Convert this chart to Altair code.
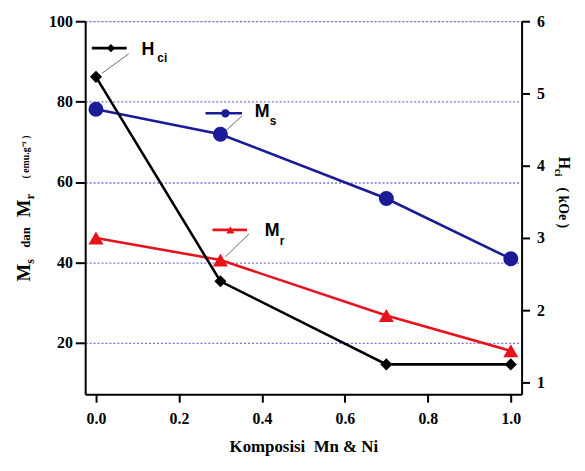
import altair as alt
import pandas as pd

# ---- data ----
composition = [0.0, 0.3, 0.7, 1.0]
ms_values = [78.1, 71.9, 55.9, 40.9]     # emu/g (left axis)
mr_values = [46.1, 40.6, 26.8, 18.0]     # emu/g (left axis)
hci_values = [5.23, 2.40, 1.25, 1.25]    # kOe (right axis)

x_ticks = [0.0, 0.2, 0.4, 0.6, 0.8, 1.0]
left_ticks = [20, 40, 60, 80, 100]
right_ticks = [1, 2, 3, 4, 5, 6]

# in-plot legend keys (data coordinates on the left axis)
key_names = ["Hci", "Ms", "Mr"]
key_x0 = [-0.01, 0.264, 0.281]
key_x1 = [0.074, 0.352, 0.364]
key_y = [93.3, 77.1, 48.1]
key_mark_x = [0.036, 0.312, 0.324]
label_main = ["H", "M", "M"]
label_x = [0.110, 0.383, 0.407]
label_y = [92.8, 77.5, 47.9]
label_sub = ["ci", "s", "r"]
sub_x = [0.148, 0.419, 0.443]
sub_y = [90.8, 75.2, 45.3]
arrow_x0 = [0.079, 0.352, 0.369]
arrow_y0 = [91.9, 76.4, 47.1]
arrow_x1 = [0.014, 0.312, 0.312]
arrow_y1 = [87.0, 72.7, 41.4]

colors = {"Hci": "#000000", "Ms": "#1b1b98", "Mr": "#e8121c"}
shapes = {"Hci": "diamond", "Ms": "circle", "Mr": "triangle-up"}

SERIF = "Liberation Serif"
SANS = "Liberation Sans"

xs = alt.Scale(domain=[-0.026, 1.026], nice=False, zero=False)
yl = alt.Scale(domain=[7.2, 100], nice=False, zero=False)
yr = alt.Scale(domain=[0.836, 6], nice=False, zero=False)

x_axis = alt.Axis(values=x_ticks, format=".1f", title="Komposisi\u00a0 Mn & Ni", grid=False,
                  labelFont=SERIF, labelFontWeight="bold", labelFontSize=16, labelColor="black",
                  titleFont=SERIF, titleFontWeight="bold", titleFontSize=17, titleColor="black",
                  domainColor="black", domainWidth=2, tickColor="black", tickWidth=2, tickSize=8,
                  labelPadding=9, titlePadding=12)
yl_axis = alt.Axis(values=left_ticks, title=None, grid=True, gridDash=[2, 2], gridColor="#7474dc",
                   gridWidth=1.3, labelFont=SERIF, labelFontWeight="bold", labelFontSize=16,
                   labelColor="black", domainColor="black", domainWidth=2, tickColor="black",
                   tickWidth=2, tickSize=10, labelPadding=3)
yr_axis = alt.Axis(values=right_ticks, title=None, grid=False, orient="right",
                   labelFont=SERIF, labelFontWeight="bold", labelFontSize=16, labelColor="black",
                   domainColor="black", domainWidth=2, tickColor="black", tickWidth=2,
                   tickSize=8, labelPadding=7)

X = alt.X("x:Q", scale=xs, axis=x_axis)
YL = alt.Y("y:Q", scale=yl, axis=yl_axis)
YR = alt.Y("y:Q", scale=yr, axis=yr_axis)

ms_df = pd.DataFrame({"x": composition, "y": ms_values})
mr_df = pd.DataFrame({"x": composition, "y": mr_values})
hci_df = pd.DataFrame({"x": composition, "y": hci_values})


def series(df, name, Y, size):
    c = colors[name]
    line = alt.Chart(df).mark_line(color=c, strokeWidth=2.6).encode(x=X, y=Y)
    pts = alt.Chart(df).mark_point(shape=shapes[name], filled=True, color=c, size=size,
                                   opacity=1).encode(x=X, y=Y)
    return line + pts


key_layers = []
for i, name in enumerate(key_names):
    c = colors[name]
    seg = pd.DataFrame({"x": [key_x0[i], key_x1[i]], "y": [key_y[i], key_y[i]]})
    mk = pd.DataFrame({"x": [key_mark_x[i]], "y": [key_y[i]]})
    arr = pd.DataFrame({"x": [arrow_x0[i], arrow_x1[i]], "y": [arrow_y0[i], arrow_y1[i]]})
    lab = pd.DataFrame({"x": [label_x[i]], "y": [label_y[i]]})
    sub = pd.DataFrame({"x": [sub_x[i]], "y": [sub_y[i]]})
    key_layers.append(alt.Chart(seg).mark_line(color=c, strokeWidth=2.6).encode(x=X, y=YL))
    key_layers.append(alt.Chart(mk).mark_point(shape=shapes[name], filled=True, color=c,
                                               size=70, opacity=1).encode(x=X, y=YL))
    key_layers.append(alt.Chart(arr).mark_line(color="#444444", strokeWidth=0.8).encode(x=X, y=YL))
    key_layers.append(alt.Chart(lab).mark_text(text=label_main[i], font=SANS, fontWeight="bold",
                                               fontSize=18, align="left", baseline="middle",
                                               color="black").encode(x=X, y=YL))
    key_layers.append(alt.Chart(sub).mark_text(text=label_sub[i], font=SANS, fontWeight="bold",
                                               fontSize=12, align="left", baseline="middle",
                                               color="black").encode(x=X, y=YL))

left = alt.layer(series(ms_df, "Ms", YL, 230), series(mr_df, "Mr", YL, 230), *key_layers)
right = alt.layer(series(hci_df, "Hci", YR, 150))

one = pd.DataFrame({"a": [0]})


def txt(s, x, y, size, angle, font=SERIF):
    return alt.Chart(one).mark_text(text=s, angle=angle, align="left", baseline="alphabetic",
                                    font=font, fontWeight="bold", fontSize=size,
                                    color="black").encode(x=alt.value(x), y=alt.value(y))


titles = alt.layer(
    # left title (reads upward)
    txt("M", -56, 263, 19, 270),
    txt("s", -52, 245, 12, 270),
    txt("dan", -56, 229, 13, 270),
    txt("M", -56, 198, 19, 270),
    txt("r", -52, 180, 12, 270),
    txt("( emu.g\u207b\u00b9 )", -57, 159, 10, 270),
    # right title (reads downward)
    txt("H", 479, 137, 16, 90),
    txt("ci", 475, 149, 11, 90),
    txt("( kOe )", 479, 168, 14, 90),
)

chart = (
    alt.layer(left, right, titles)
    .resolve_scale(y="independent")
    .properties(width=441, height=377,
                padding={"left": 78, "top": 11, "right": 56, "bottom": 60},
                autosize=alt.AutoSizeParams(type="none"))
    .configure_view(stroke=None)
    .configure(background="white")
)

chart.save("out.html", embed_options={"renderer": "svg", "actions": False})
